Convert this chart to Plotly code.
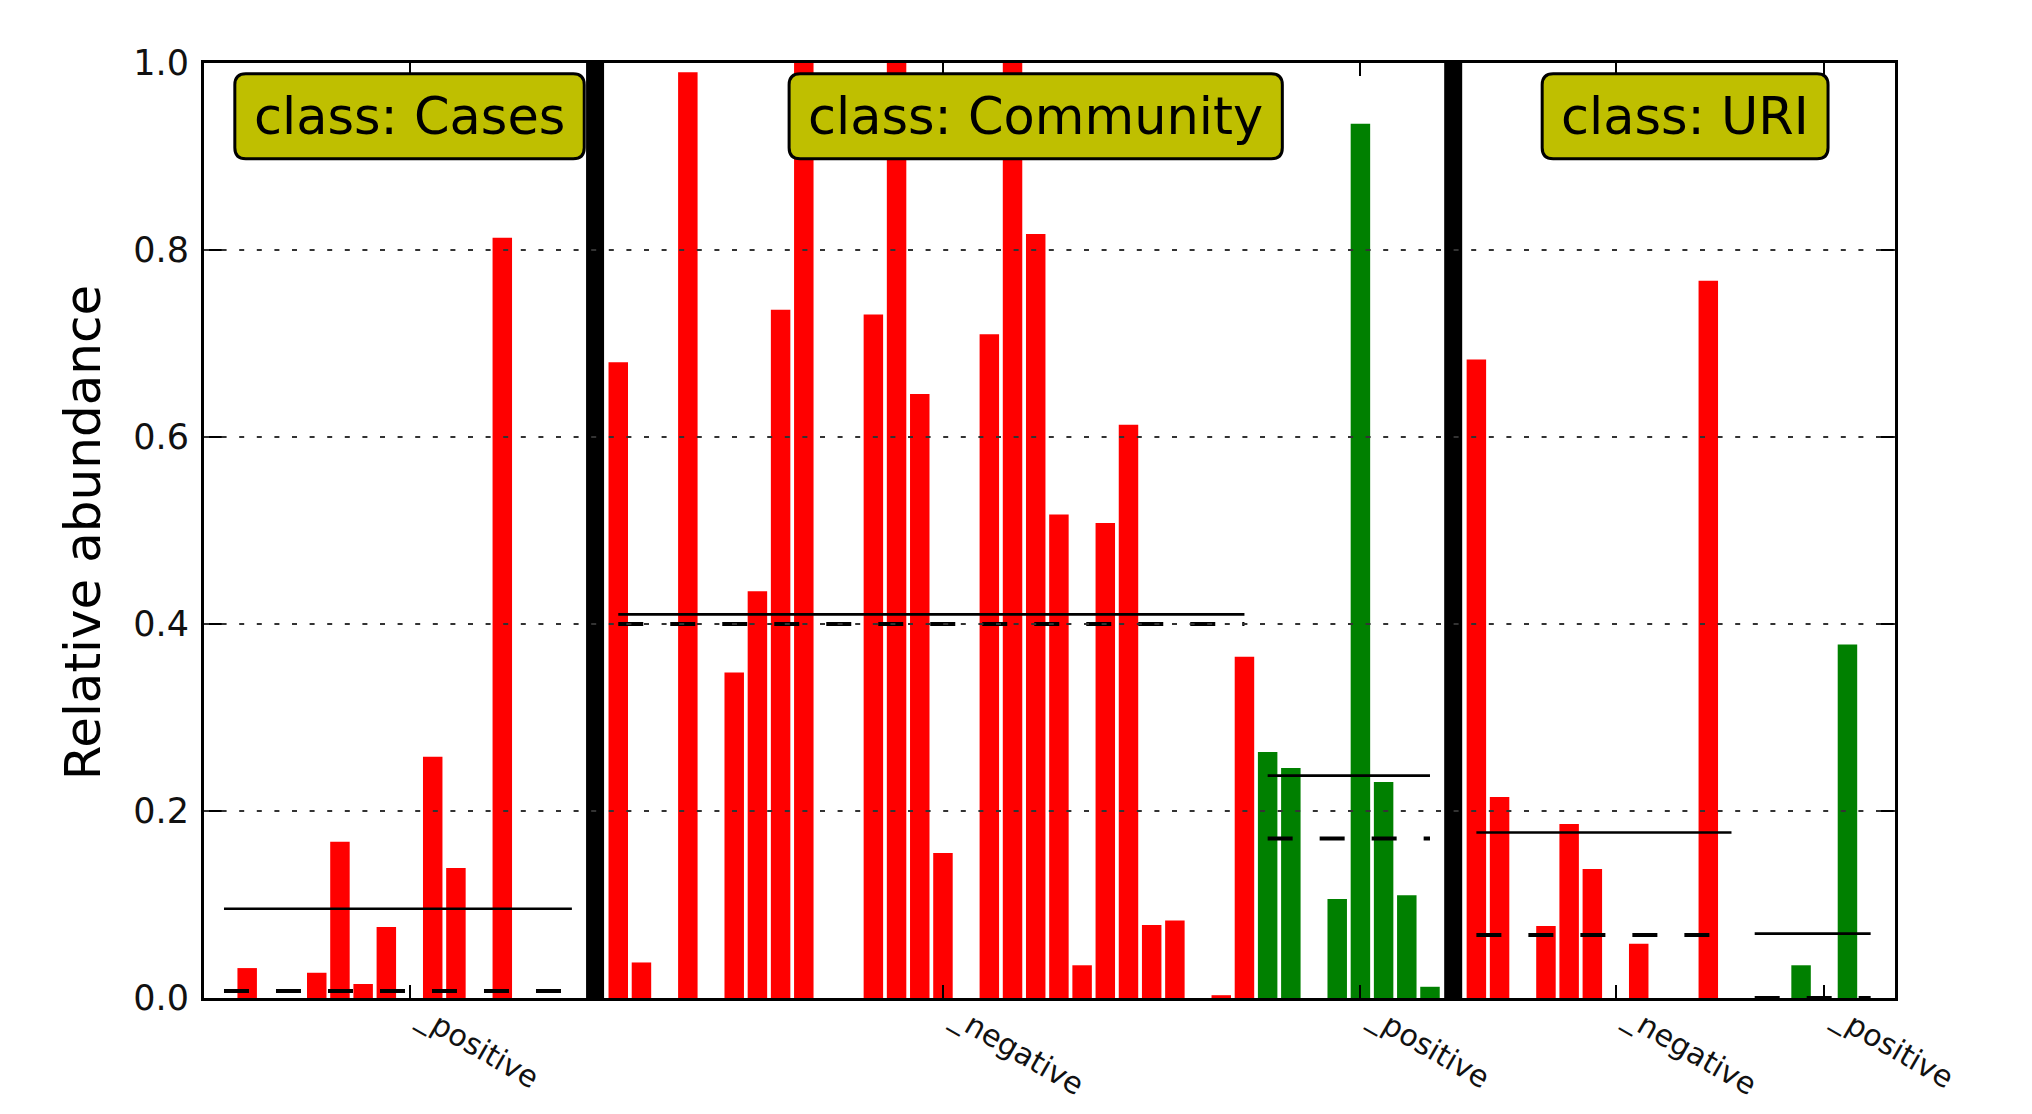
import numpy as np
import plotly.graph_objects as go

# ---- data -------------------------------------------------------------
class_names = ["Cases", "Community", "URI"]

# relative abundance of the feature in each sample, grouped by class / subclass
cases_positive = [0.0, 0.032, 0.0, 0.0, 0.027, 0.167, 0.015, 0.076,
                  0.0, 0.258, 0.139, 0.0, 0.813, 0.0, 0.0, 0.0]
community_negative = [0.680, 0.038, 0.0, 0.990, 0.0, 0.348, 0.435, 0.736,
                      1.0, 0.0, 0.0, 0.731, 1.0, 0.646, 0.155, 0.0,
                      0.710, 1.0, 0.817, 0.517, 0.035, 0.508, 0.613, 0.078,
                      0.083, 0.0, 0.003, 0.365]
community_positive = [0.263, 0.246, 0.0, 0.106, 0.935, 0.231, 0.110, 0.012]
uri_negative = [0.683, 0.215, 0.0, 0.077, 0.186, 0.138, 0.0, 0.058,
                0.0, 0.0, 0.767, 0.0]
uri_positive = [0.0, 0.0, 0.035, 0.0, 0.378, 0.0]

subclasses = {
    "Cases": [("_positive", cases_positive)],
    "Community": [("_negative", community_negative), ("_positive", community_positive)],
    "URI": [("_negative", uri_negative), ("_positive", uri_positive)],
}

y_ticks = [0.0, 0.2, 0.4, 0.6, 0.8, 1.0]
y_tick_labels = ["0.0", "0.2", "0.4", "0.6", "0.8", "1.0"]

# ---- styling ----------------------------------------------------------
FONT = "DejaVu Sans"
SUB_COLORS = ["#FF0000", "#008000"]
BOX_FILL = "#BFBF00"
BAR_WIDTH = 0.84
BOX_FONT = 51

# DejaVu Sans advance widths (em) used to size the rounded class boxes
ADV = {"c": .550, "l": .278, "a": .613, "s": .521, ":": .337, " ": .318,
       "C": .698, "e": .615, "o": .612, "m": .974, "u": .634, "n": .634,
       "i": .278, "t": .392, "y": .592, "U": .732, "R": .695, "I": .295}


def rounded_box_path(w, h, r):
    x0, x1, y0, y1 = -w / 2, w / 2, -h / 2, h / 2
    return (f"M {x0 + r},{y0} L {x1 - r},{y0} Q {x1},{y0} {x1},{y0 + r} "
            f"L {x1},{y1 - r} Q {x1},{y1} {x1 - r},{y1} "
            f"L {x0 + r},{y1} Q {x0},{y1} {x0},{y1 - r} "
            f"L {x0},{y0 + r} Q {x0},{y0} {x0 + r},{y0} Z")


fig = go.Figure()
shapes = []
annotations = []
tick_vals, tick_text = [], []

pos = 0
for ci, cname in enumerate(class_names):
    if ci > 0:
        # thick vertical separator between classes
        shapes.append(dict(type="line", xref="x", yref="y domain",
                           x0=pos, x1=pos, y0=0, y1=1,
                           line=dict(color="black", width=18), layer="above"))
        pos += 1
    class_start = pos
    for si, (sname, vals) in enumerate(subclasses[cname]):
        xs = list(range(pos, pos + len(vals)))
        fig.add_trace(go.Bar(x=xs, y=vals, width=BAR_WIDTH,
                             marker=dict(color=SUB_COLORS[si], line=dict(width=0)),
                             showlegend=False, hoverinfo="skip"))
        mean_v = float(np.mean(vals))
        med_v = float(np.median(vals))
        fig.add_trace(go.Scatter(x=[xs[0], xs[-1]], y=[mean_v, mean_v], mode="lines",
                                 line=dict(color="black", width=2.6),
                                 showlegend=False, hoverinfo="skip"))
        fig.add_trace(go.Scatter(x=[xs[0], xs[-1]], y=[med_v, med_v], mode="lines",
                                 line=dict(color="black", width=4, dash="25px,27px"),
                                 showlegend=False, hoverinfo="skip"))
        tick_vals.append(pos + len(vals) // 2)
        tick_text.append(sname)
        pos += len(vals)
    n_class = pos - class_start
    label = "class: " + cname
    cx = class_start + n_class // 2
    box_w = sum(ADV.get(ch, 0.6) for ch in label) * BOX_FONT + 38
    shapes.append(dict(type="path", xref="x", yref="y",
                       xsizemode="pixel", ysizemode="pixel",
                       xanchor=cx, yanchor=0.943,
                       path=rounded_box_path(box_w, 85, 11),
                       fillcolor=BOX_FILL, line=dict(color="black", width=3),
                       layer="above"))
    annotations.append(dict(x=cx, y=0.943, xref="x", yref="y",
                            text=label, showarrow=False,
                            font=dict(family=FONT, size=BOX_FONT, color="black"),
                            xanchor="center", yanchor="middle"))

# dotted horizontal grid drawn over the bars
for t in y_ticks[1:-1]:
    shapes.append(dict(type="line", xref="x domain", yref="y",
                       x0=0, x1=1, y0=t, y1=t,
                       line=dict(color="#333333", width=2, dash="5px,12.6px"),
                       layer="above"))

annotations.append(dict(text="Relative abundance", x=-0.0716, y=0.498,
                        xref="paper", yref="paper", showarrow=False,
                        textangle=-90, xanchor="center", yanchor="middle",
                        font=dict(family=FONT, size=50, color="black")))

fig.update_layout(
    width=2032, height=1114,
    margin=dict(l=204, r=137, t=63, b=116),
    paper_bgcolor="white", plot_bgcolor="white",
    barmode="overlay",
    shapes=shapes, annotations=annotations,
    font=dict(family=FONT, color="black"),
    xaxis=dict(range=[-0.862, 72.05], tickvals=tick_vals, ticktext=tick_text,
               ticks="inside", ticklen=13, tickwidth=2, tickcolor="black",
               showline=True, linecolor="black", linewidth=3, mirror="ticks",
               tickangle=30, tickfont=dict(family=FONT, size=30, color="#111"),
               showgrid=False, zeroline=False, ticklabelstandoff=-12,
               ticklabelshift=14, automargin=False),
    yaxis=dict(range=[0, 1], tickvals=y_ticks, ticktext=y_tick_labels,
               ticks="inside", ticklen=18, tickwidth=2, tickcolor="black",
               showline=True, linecolor="black", linewidth=3, mirror="ticks",
               tickfont=dict(family=FONT, size=35, color="#111"),
               showgrid=False, zeroline=False, ticklabelstandoff=5,
               automargin=False),
)

fig.write_html("out.html")
